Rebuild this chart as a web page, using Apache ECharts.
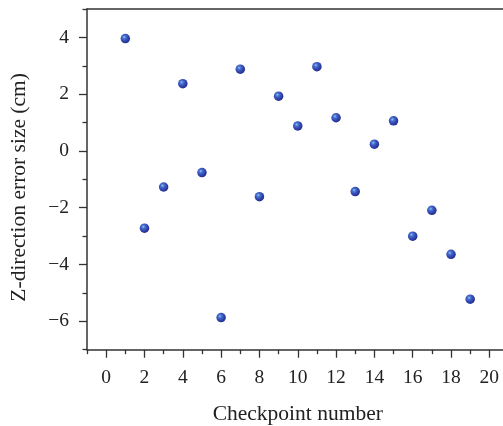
<!DOCTYPE html>
<html>
<head>
<meta charset="utf-8">
<script src="https://cdn.jsdelivr.net/npm/echarts@6/dist/echarts.min.js"></script>
<style>html,body{margin:0;padding:0;background:#fff}#c{width:503px;height:426px}</style>
</head>
<body>
<div id="c"></div>
<script>
var checkpoints = [1,2,3,4,5,6,7,8,9,10,11,12,13,14,15,16,17,18,19];
var zErrors = [3.96,-2.72,-1.27,2.37,-0.76,-5.87,2.88,-1.61,1.93,0.88,2.97,1.17,-1.43,0.24,1.06,-3.0,-2.09,-3.64,-5.22];
var xTicks = [0,2,4,6,8,10,12,14,16,18,20];
var xMinorTicks = [-1,1,3,5,7,9,11,13,15,17,19,21];
var yTicks = [-6,-4,-2,0,2,4];
var yMinorTicks = [-7,-5,-3,-1,1,3,5];

var data = checkpoints.map(function(c,i){return [c, zErrors[i]];});
var font = '"Liberation Serif","DejaVu Serif",serif';
var axisCol = '#333';
var XMIN = -1, XMAX = 21, YMIN = -7, YMAX = 5;

var chart = echarts.init(document.getElementById('c'), null, {renderer:'canvas'});
chart.setOption({
  animation:false,
  backgroundColor:'#fff',
  grid:{left:87, top:9, right:-5.5, bottom:76.3, containLabel:false, outerBoundsMode:'none'},
  xAxis:[{
    type:'value', min:XMIN, max:XMAX, position:'bottom',
    name:'Checkpoint number', nameLocation:'middle', nameGap:54,
    nameTextStyle:{fontFamily:font, fontSize:21.5, color:'#222', padding:[0,0,0,0]},
    axisLine:{show:true, onZero:false, lineStyle:{color:axisCol, width:1.5}},
    axisTick:{show:true, inside:false, length:8, customValues:xTicks, lineStyle:{color:axisCol, width:1.3}},
    splitLine:{show:false},
    axisLabel:{fontFamily:font, fontSize:19.5, color:'#222', margin:18, customValues:xTicks,
      formatter:function(v){return String(v);}}
  },{
    type:'value', min:XMIN, max:XMAX, position:'bottom',
    axisLine:{show:false, onZero:false},
    axisTick:{show:true, inside:false, length:4.5, customValues:xMinorTicks, lineStyle:{color:axisCol, width:1.3}},
    splitLine:{show:false},
    axisLabel:{show:false}
  },{
    type:'value', min:XMIN, max:XMAX, position:'top',
    axisLine:{show:true, onZero:false, lineStyle:{color:axisCol, width:1.5}},
    axisTick:{show:false},
    splitLine:{show:false},
    axisLabel:{show:false}
  }],
  yAxis:[{
    type:'value', min:YMIN, max:YMAX, position:'left',
    name:'Z-direction error size (cm)', nameLocation:'middle', nameGap:57,
    nameTextStyle:{fontFamily:font, fontSize:21.5, color:'#222', padding:[0,16,0,0]},
    axisLine:{show:true, onZero:false, lineStyle:{color:axisCol, width:1.5}},
    axisTick:{show:true, inside:false, length:8, customValues:yTicks, lineStyle:{color:axisCol, width:1.3}},
    splitLine:{show:false},
    axisLabel:{fontFamily:font, fontSize:19.5, color:'#222', margin:18, customValues:yTicks,
      formatter:function(v){return String(v).replace('-','\u2212');}}
  },{
    type:'value', min:YMIN, max:YMAX, position:'left',
    axisLine:{show:false, onZero:false},
    axisTick:{show:true, inside:false, length:4.5, customValues:yMinorTicks, lineStyle:{color:axisCol, width:1.3}},
    splitLine:{show:false},
    axisLabel:{show:false}
  }],
  series:[{
    type:'scatter',
    xAxisIndex:0, yAxisIndex:0,
    data:data,
    symbol:'circle',
    symbolSize:9.5,
    itemStyle:{
      color:{type:'radial', x:0.38, y:0.35, r:0.7,
        colorStops:[{offset:0,color:'#7fd0f0'},{offset:0.25,color:'#4a6fcf'},{offset:0.6,color:'#3346b0'},{offset:1,color:'#1f2a86'}]},
      opacity:1
    }
  }]
});
</script>
</body>
</html>
